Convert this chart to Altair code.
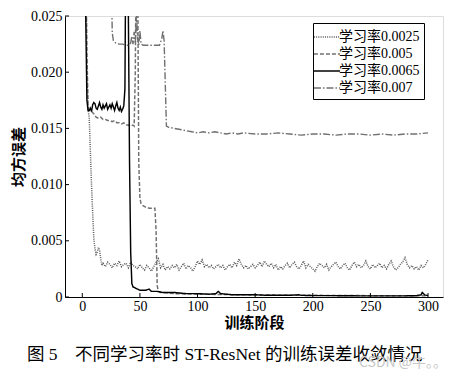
import altair as alt
import pandas as pd

series_names = ["学习率0.0025", "学习率0.005", "学习率0.0065", "学习率0.007"]

# lr 0.0025 (dotted)
d1_epochs = [1, 3, 4, 5, 6, 7, 8, 9, 10, 11, 12, 13, 14, 15, 16, 17] + list(range(18, 301, 2))
d1_values = [0.05, 0.03, 0.020, 0.0167, 0.0160, 0.0130, 0.0100, 0.0075, 0.0052, 0.0043,
             0.0038, 0.0040, 0.0044, 0.0042, 0.0034, 0.0028,
             0.0030, 0.0027, 0.0031, 0.0029, 0.0026, 0.0030, 0.0028, 0.0032, 0.0027, 0.0029,
             0.0030, 0.0026, 0.0031, 0.0028, 0.0027, 0.0025, 0.0029, 0.0026, 0.0024, 0.0028,
             0.0026, 0.0023, 0.0027, 0.0031, 0.0034, 0.0026, 0.0029, 0.0024, 0.0027, 0.0025,
             0.0028, 0.0026, 0.0029, 0.0024, 0.0027, 0.0030, 0.0025, 0.0028, 0.0026, 0.0023,
             0.0027, 0.0032, 0.0029, 0.0033, 0.0027, 0.0029, 0.0026, 0.0028, 0.0025, 0.0027,
             0.0029, 0.0026, 0.0028, 0.0024, 0.0027, 0.0029, 0.0026, 0.0031, 0.0028, 0.0034,
             0.0029, 0.0026, 0.0028, 0.0025, 0.0027, 0.0029, 0.0026, 0.0028, 0.0031, 0.0027,
             0.0032, 0.0029, 0.0027, 0.0030, 0.0026, 0.0029, 0.0024, 0.0027, 0.0025, 0.0028,
             0.0030, 0.0026, 0.0029, 0.0031, 0.0027, 0.0025, 0.0028, 0.0032, 0.0026, 0.0029,
             0.0027, 0.0025, 0.0023, 0.0027, 0.0030, 0.0028, 0.0026, 0.0029, 0.0024, 0.0027,
             0.0029, 0.0031, 0.0027, 0.0025, 0.0028, 0.0030, 0.0026, 0.0024, 0.0028, 0.0031,
             0.0027, 0.0029, 0.0026, 0.0028, 0.0032, 0.0027, 0.0025, 0.0029, 0.0026, 0.0028,
             0.0030, 0.0026, 0.0028, 0.0025, 0.0029, 0.0032, 0.0027, 0.0024, 0.0026, 0.0029,
             0.0031, 0.0035, 0.0029, 0.0026, 0.0028, 0.0025, 0.0027, 0.0024, 0.0028, 0.0026,
             0.0029, 0.0033]

# lr 0.005 (dashed)
d2_epochs = [1, 3, 4, 5, 6, 8, 10, 12, 14, 16, 18, 20, 22, 24, 26, 28, 30, 32, 34, 36, 38, 40,
             42, 44, 45, 46, 47, 48, 49, 50, 51, 53, 55, 58, 61, 63, 64, 65, 66, 68, 70, 80,
             100, 150, 200, 250, 300]
d2_values = [0.05, 0.03, 0.022, 0.0170, 0.0166, 0.0165, 0.0163, 0.0160, 0.0159, 0.0160, 0.0158,
             0.0158, 0.0157, 0.0157, 0.0156, 0.0157, 0.0155, 0.0155, 0.0154, 0.0155, 0.0153,
             0.0153, 0.0152, 0.0153, 0.0152, 0.020, 0.035, 0.030, 0.012, 0.0088, 0.0083, 0.0081,
             0.0080, 0.0079, 0.0079, 0.0079, 0.0060, 0.0010, 0.0005, 0.0004, 0.0004, 0.0003,
             0.00025, 0.00018, 0.00015, 0.00012, 0.0001]

# lr 0.0065 (solid black)
d3_epochs = list(range(1, 45)) + [46, 48, 50, 55, 58, 60, 65, 70, 80, 90, 100, 110, 116, 118,
                                   120, 130, 140, 150, 160, 170, 180, 188, 190, 200, 220, 240,
                                   260, 280, 290, 294, 295, 297, 300]
d3_values = [0.05, 0.04, 0.025, 0.0175, 0.0166, 0.0166, 0.0168, 0.0165, 0.0171, 0.0173, 0.0172,
             0.0168, 0.0167, 0.0170, 0.0173, 0.0169, 0.0167, 0.0171, 0.0168, 0.0170, 0.0172,
             0.0167, 0.0169, 0.0171, 0.0168, 0.0172, 0.0169, 0.0166, 0.0170, 0.0173, 0.0168,
             0.0166, 0.0169, 0.0165, 0.0167, 0.0170, 0.0185, 0.035, 0.040, 0.025, 0.012, 0.004,
             0.0012, 0.0009,
             0.0008, 0.0007, 0.0006, 0.0006, 0.0007, 0.0005, 0.0005, 0.0004, 0.0004, 0.0003,
             0.0003, 0.00025, 0.0003, 0.0005, 0.0003, 0.0002, 0.0002, 0.0002, 0.00015, 0.00015,
             0.00015, 0.0002, 0.00015, 0.00012, 0.00012, 0.0001, 0.0001, 0.0001, 0.00012, 0.0002,
             0.0004, 0.0002, 0.00012]

# lr 0.007 (dash-dot)
d4_epochs = [1, 10, 20, 25, 26, 27, 29, 32, 35, 38, 40, 42, 43, 44, 45, 46, 47, 48, 49, 50, 51,
             53, 56, 60, 64, 67, 69, 70, 71, 72, 73, 75, 80, 85, 90, 95, 100, 105, 110, 115, 120,
             125, 130, 135, 140, 150, 160, 170, 180, 190, 200, 210, 220, 230, 240, 250, 260,
             270, 280, 290, 300]
d4_values = [0.06, 0.045, 0.035, 0.030, 0.0235, 0.0228, 0.0226, 0.0225, 0.0225, 0.0224, 0.0224,
             0.0226, 0.0232, 0.0225, 0.0236, 0.0226, 0.0250, 0.0230, 0.0224, 0.0237, 0.0225,
             0.0224, 0.0224, 0.0224, 0.0224, 0.0224, 0.0230, 0.0237, 0.0228, 0.0190, 0.0152,
             0.0151, 0.0150, 0.0149, 0.0148, 0.0147, 0.0146, 0.0147, 0.0146, 0.0147, 0.0146,
             0.0145, 0.0146, 0.0145, 0.0146, 0.0145, 0.0145, 0.0146, 0.0145, 0.0144, 0.0145,
             0.0145, 0.0144, 0.0145, 0.0145, 0.0144, 0.0145, 0.0144, 0.0145, 0.0145, 0.0146]

x_ticks = [0, 50, 100, 150, 200, 250, 300]
y_ticks = [0, 0.005, 0.010, 0.015, 0.020, 0.025]
caption = ["图\u00a05\u00a0\u00a0\u00a0\u00a0不同学习率时\u00a0ST-ResNet\u00a0的训练误差收敛情况"]
watermark = ["CSDN @牛。。"]

rows = []
for name, ep, vals in zip(series_names, [d1_epochs, d2_epochs, d3_epochs, d4_epochs],
                          [d1_values, d2_values, d3_values, d4_values]):
    for e, v in zip(ep, vals):
        rows.append({"series": name, "epoch": e, "mse": v})
df = pd.DataFrame(rows)

W, H = 378, 281
serif = "'Liberation Serif', 'Noto Sans CJK SC', serif"
cjk = "'Noto Sans CJK SC', sans-serif"

xscale = alt.Scale(domain=[-15, 313], nice=False, zero=False)
yscale = alt.Scale(domain=[0, 0.025], nice=False)

leg = alt.Legend(orient="none", legendX=248, legendY=7, title=None, strokeColor="black",
                 fillColor="white", padding=4, symbolType="M-1.45,0H1.45", symbolSize=324,
                 labelFont=serif, labelFontSize=14, labelColor="black", rowPadding=0,
                 cornerRadius=0, labelOffset=2)

lines = alt.Chart(df).mark_line(clip=True).encode(
    x=alt.X("epoch:Q", scale=xscale,
            axis=alt.Axis(values=x_ticks, title="训练阶段", titleFont=cjk, titleFontSize=15,
                          titleFontWeight="bold", titlePadding=2, labelFont=serif,
                          labelFontSize=14, labelPadding=2, tickSize=0, domainColor="black",
                          grid=False, labelColor="black", titleColor="black")),
    y=alt.Y("mse:Q", scale=yscale,
            axis=alt.Axis(values=y_ticks, title="均方误差", titleFont=cjk,
                          titleFontSize=15, titleFontWeight="bold", titlePadding=4,
                          labelFont=serif, labelFontSize=14, labelPadding=3, tickSize=0,
                          domainColor="black", grid=False, labelColor="black",
                          titleColor="black",
                          labelExpr="datum.value == 0 ? '0' : format(datum.value, '.3f')")),
    color=alt.Color("series:N", sort=series_names,
                    scale=alt.Scale(domain=series_names,
                                    range=["#5a5a5a", "#707070", "#000000", "#707070"]),
                    legend=leg),
    strokeDash=alt.StrokeDash("series:N", sort=series_names,
                              scale=alt.Scale(domain=series_names,
                                              range=[[1, 1.2], [4, 2], [1, 0], [7, 2, 1.5, 2]]),
                              legend=leg),
    strokeWidth=alt.StrokeWidth("series:N", sort=series_names,
                                scale=alt.Scale(domain=series_names, range=[1.5, 1.4, 2.2, 1.4]),
                                legend=leg),
    order=alt.Order("epoch:Q"),
)

xt = alt.Chart(pd.DataFrame({"t": x_ticks})).mark_rule(color="black").encode(
    x=alt.X("t:Q", scale=xscale), y=alt.value(H), y2=alt.value(H - 4))
yt = alt.Chart(pd.DataFrame({"t": y_ticks})).mark_rule(color="black").encode(
    y=alt.Y("t:Q", scale=yscale), x=alt.value(0), x2=alt.value(4))

cap = alt.Chart(pd.DataFrame({"t": caption})).mark_text(
    font=serif, fontSize=17.5, color="black", align="left", baseline="middle").encode(
    text="t:N", x=alt.value(-38), y=alt.value(H + 58))

wm = alt.Chart(pd.DataFrame({"t": watermark})).mark_text(
    font=cjk, fontSize=14, color="#c8c8c8", align="left", baseline="middle").encode(
    text="t:N", x=alt.value(W - 84), y=alt.value(H + 66))

chart = alt.layer(lines, xt, yt, cap, wm).properties(
    width=W, height=H,
    autosize=alt.AutoSizeParams(type="none"),
    padding={"left": 57, "top": 8, "right": 12, "bottom": 78},
).configure_view(stroke="#888888", strokeWidth=1.5).configure(background="white")

chart.save("out.html", embed_options={"renderer": "svg", "actions": False})
